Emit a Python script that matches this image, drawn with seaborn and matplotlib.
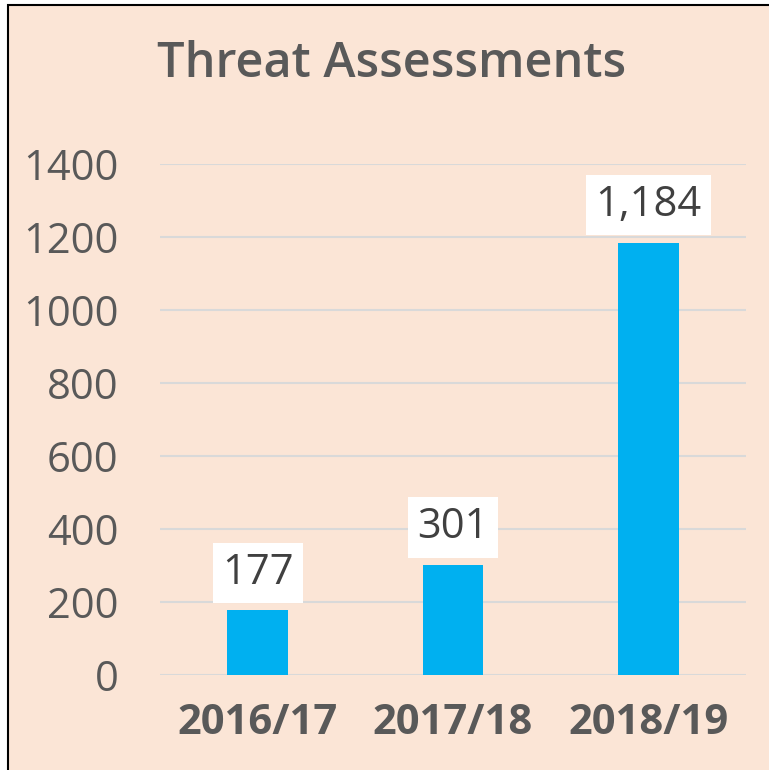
import matplotlib
matplotlib.use("Agg")
import matplotlib.pyplot as plt
import seaborn as sns
from matplotlib.patches import Rectangle

# chart data
years = ["2016/17", "2017/18", "2018/19"]
assessments = [177, 301, 1184]
value_labels = ["177", "301", "1,184"]

bg = "#FBE5D6"
bar_color = "#00B0F0"
grey = "#595959"

sns.set_style("white")
plt.rcParams["font.family"] = ["Open Sans", "DejaVu Sans"]

fig = plt.figure(figsize=(7.69, 7.70), dpi=100, facecolor="white")

# peach panel with black border (left/top visible)
panel = Rectangle((8 / 769, -0.05), 1.2, 1 - 5 / 770 + 0.05, transform=fig.transFigure,
                  facecolor=bg, edgecolor="black", linewidth=1.5, zorder=-10)
fig.patches.append(panel)

ax = fig.add_axes([160 / 769, 1 - 675 / 770, 586 / 769, 511 / 770])
ax.set_facecolor("none")
ax.set_zorder(1)

sns.barplot(x=years, y=assessments, color=bar_color, width=0.31, ax=ax,
            saturation=1, linewidth=0, zorder=3)

ax.set_ylim(0, 1400)
ax.set_xlim(-0.5, 2.5)
ax.set_yticks(range(0, 1401, 200))
ax.yaxis.grid(True, color="#D9D9D9", linewidth=1.5, zorder=0)
ax.set_axisbelow(True)
for s in ax.spines.values():
    s.set_visible(False)

ax.tick_params(axis="y", length=0, pad=30, labelsize=30, labelcolor=grey)
ax.tick_params(axis="x", length=0, pad=20, labelsize=30, labelcolor=grey)
for t in ax.get_xticklabels():
    t.set_fontweight("bold")

for i, (v, lab) in enumerate(zip(assessments, value_labels)):
    ax.annotate(lab, xy=(i, v), xytext=(0, 12), textcoords="offset points",
                ha="center", va="bottom", fontsize=30, color="#404040", zorder=5,
                bbox=dict(boxstyle="square,pad=0.22", facecolor="white", edgecolor="none"))

fig.text(392 / 769, 1 - 77 / 770, "Threat Assessments", ha="center", va="baseline",
         fontsize=35, color=grey, fontweight="semibold")

fig.savefig("out.png", dpi=100, facecolor="white")
